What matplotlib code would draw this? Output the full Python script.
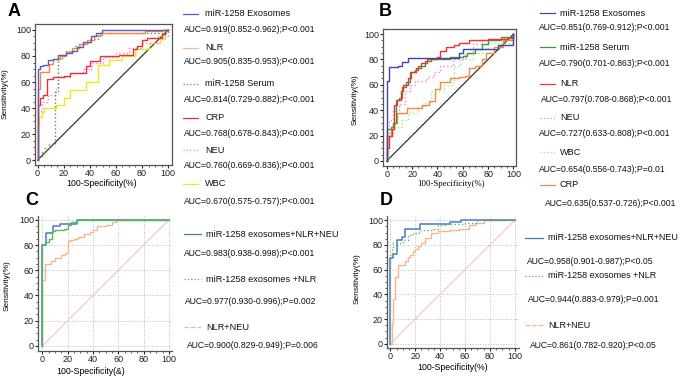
import matplotlib
matplotlib.use("Agg")
import matplotlib.pyplot as plt
from matplotlib.lines import Line2D
from matplotlib.ticker import MultipleLocator

plt.rcParams['font.family'] = ['Liberation Sans', 'DejaVu Sans']

W, H = 685, 386

# ---- data (100-specificity %, sensitivity %) ----
# panel A
a_exo_x = [0, 0, 2, 4, 8, 12, 16, 22, 26, 30, 35, 41, 45, 49, 100]
a_exo_y = [0, 70, 72, 73, 77, 78, 81, 82.5, 84, 87, 91, 95, 97.5, 100, 100]
a_nlr_x = [0, 0, 1.5, 9, 12, 17, 22, 26, 32, 38, 43, 48, 82, 95, 100]
a_nlr_y = [0, 55, 68, 74, 78, 80, 83, 86, 89, 92, 95, 97.4, 99, 100, 100]
a_ser_x = [0, 0, 3, 6, 9, 13.5, 13.5, 16, 18.5, 22, 28, 33, 40, 46, 50, 90, 100]
a_ser_y = [0, 3, 6, 9, 12, 12, 52, 78, 80, 84, 88, 90, 93, 96, 98, 98, 100]
a_crp_x = [0, 0, 1.5, 4, 7, 12, 20, 25, 37, 40, 48, 62, 73, 76, 80, 84, 95, 98, 100]
a_crp_y = [0, 42, 48, 50, 62, 64, 65, 67, 72, 76, 80, 81, 85, 88, 92, 94, 97, 100, 100]
a_neu_x = [0, 0, 3, 8, 13, 16, 25, 35, 42, 50, 60, 70, 80, 92, 100]
a_neu_y = [0, 38, 45, 50, 55, 64, 67, 70, 75, 79, 82, 86, 90, 95, 100]
a_wbc_x = [0, 0, 1, 3, 5, 14, 20, 25, 37, 46, 55, 65, 75, 85, 94, 98, 100]
a_wbc_y = [0, 27, 33, 37, 40, 42, 48, 54, 60, 73, 77, 80, 85, 90, 93, 100, 100]

# panel B
b_exo_x = [0, 0, 2, 9, 12, 17, 57, 60, 88, 100]
b_exo_y = [0, 63, 74, 75, 78, 81, 85, 88, 91, 100]
b_ser_x = [0, 0, 3, 5, 7, 10, 12, 15, 18, 22, 25, 30, 35, 50, 60, 63, 70, 75, 80, 90, 100]
b_ser_y = [0, 25, 27, 30, 48, 50, 58, 62, 70, 72, 75, 79, 80, 82, 83, 85, 88, 92, 95, 98, 100]
b_nlr_x = [0, 0, 2, 4, 6, 8, 11, 13, 17, 19, 23, 27, 32, 40, 42, 47, 53, 57, 65, 80, 95, 100]
b_nlr_y = [0, 10, 20, 25, 44, 48, 55, 60, 65, 70, 73, 77, 80, 82, 87, 90, 91, 93, 95, 96, 97, 100]
b_neu_x = [0, 0, 2, 5, 10, 14, 18, 22, 32, 37, 42, 52, 62, 68, 75, 90, 100]
b_neu_y = [0, 20, 32, 40, 45, 55, 60, 63, 66, 70, 75, 80, 85, 92, 95, 97, 100]
b_wbc_x = [0, 2, 5, 12, 17, 25, 30, 35, 45, 52, 53, 58, 68, 75, 80, 100]
b_wbc_y = [0, 20, 27, 32, 38, 43, 46, 55, 60, 63, 75, 80, 85, 88, 93, 100]
b_crp_x = [0, 0, 3, 6, 8, 16, 28, 33, 38, 42, 50, 57, 62, 65, 70, 75, 78, 85, 92, 100]
b_crp_y = [0, 20, 25, 30, 38, 42, 44, 47, 57, 62, 65, 66, 67, 73, 75, 80, 85, 90, 95, 100]

# panel C
c_all_x = [0, 0, 2.6, 8.7, 14, 27, 100]
c_all_y = [0, 80, 89.5, 94.7, 97, 100, 100]
c_two_x = [0, 0, 2.5, 5, 8, 10, 17, 20, 23, 27, 100]
c_two_y = [0, 80, 82, 85, 91, 92, 93, 96, 98, 100, 100]
c_nn_x = [0, 0, 2, 7, 10, 15, 18, 20, 22, 25, 28, 33, 38, 40, 43, 50, 55, 58, 100]
c_nn_y = [0, 52, 65, 67, 70, 72, 74, 83, 84, 85, 86, 89, 90, 92, 95, 96, 98, 100, 100]

# panel D
d_all_x = [0, 0, 2, 5, 9, 12, 24, 48, 57, 100]
d_all_y = [0, 69.7, 73, 84, 86.5, 92.7, 97, 98.6, 100, 100]
d_two_x = [0, 0, 1, 2.5, 10, 14, 18, 23, 35, 38, 45, 60, 70, 100]
d_two_y = [0, 72, 78, 82, 84, 88, 90, 92, 93, 96, 97, 98, 100, 100]
d_nn_x = [0, 1, 2, 4, 6, 12, 14, 16, 18, 20, 22, 25, 28, 33, 38, 48, 55, 63, 68, 75, 100]
d_nn_y = [0, 17, 36, 54, 64, 67, 70, 72, 75, 77, 79, 82, 86, 90, 91, 92, 93, 96, 98, 100, 100]

ticks = [0, 20, 40, 60, 80, 100]


def fx(x):
    return x / W


def fy(y):
    return 1 - y / H


def make_axes(fig, left, right, top, bottom):
    return fig.add_axes([fx(left), fy(bottom), (right - left) / W, (bottom - top) / H])


def style(ax, xlim, ylim, box=True, grid=False):
    ax.set_xlim(*xlim)
    ax.set_ylim(*ylim)
    ax.set_xticks(ticks)
    ax.set_yticks(ticks)
    ax.xaxis.set_minor_locator(MultipleLocator(5))
    ax.yaxis.set_minor_locator(MultipleLocator(5))
    ax.tick_params(labelsize=6.5, length=2, width=0.8, pad=1, colors='#222222')
    ax.tick_params(which='minor', length=1.2, width=0.6, colors='#444444')
    for s in ax.spines.values():
        s.set_color('#555555')
        s.set_linewidth(0.9)
    if not box:
        ax.spines['top'].set_visible(False)
        ax.spines['right'].set_visible(False)
    if grid:
        ax.grid(True, ls=':', color='#bbbbbb', lw=0.7)


def leg_line(fig, x0, x1, y, color, ls='-'):
    fig.add_artist(Line2D([fx(x0), fx(x1)], [fy(y), fy(y)], transform=fig.transFigure,
                          color=color, lw=0.9, ls=ls))


def txt(fig, x, y, s, size=6.2, **kw):
    fig.text(fx(x), fy(y), s, fontsize=size, va='center', color='#111111', **kw)


fig = plt.figure(figsize=(6.85, 3.86), dpi=100)

# ---------- A ----------
ax = make_axes(fig, 35, 172, 24, 165)
ax.plot([0, 100], [0, 100], color='#333333', lw=0.9)
ax.step(a_wbc_x, a_wbc_y, where='post', color='#f2e620', lw=1.0)
ax.step(a_neu_x, a_neu_y, where='post', color='#ee82ee', lw=1.0, ls=':')
ax.step(a_crp_x, a_crp_y, where='post', color='#f03030', lw=1.0)
ax.step(a_ser_x, a_ser_y, where='post', color='#4a9a4a', lw=1.0, ls=':')
ax.step(a_nlr_x, a_nlr_y, where='post', color='#f48a3c', lw=1.0)
ax.step(a_exo_x, a_exo_y, where='post', color='#5b5bc0', lw=1.0)
style(ax, (-2, 103), (-3.8, 104.6))
fig.text(fx(14), fy(11), 'A', fontsize=13, fontweight='bold', ha='center', va='center')
fig.text(fx(5), fy(94), 'Sensitivity(%)', fontsize=6, rotation=90, ha='center', va='center')
fig.text(fx(102), fy(184), '100-Specificity(%)', fontsize=6.3, ha='center', va='center')

a_leg = [('miR-1258 Exosomes', '#5b5bc0', '-', 'AUC=0.919(0.852-0.962);P<0.001', 14, 29),
         ('NLR', '#f8b890', '-', 'AUC=0.905(0.835-0.953);P<0.001', 48, 62),
         ('miR-1258 Serum', '#4a9a4a', ':', 'AUC=0.814(0.729-0.882);P<0.001', 84, 100),
         ('CRP', '#f03030', '-', 'AUC=0.768(0.678-0.843);P<0.001', 118, 133),
         ('NEU', '#ee82ee', ':', 'AUC=0.760(0.669-0.836);P<0.001', 150, 165),
         ('WBC', '#f2e620', '-', 'AUC=0.670(0.575-0.757);P<0.001', 184, 202)]
for name, c, ls, auc, y1, y2 in a_leg:
    leg_line(fig, 183, 198, y1, c, ls)
    txt(fig, 205, y1, name, size=6.6)
    txt(fig, 184, y2, auc)

# ---------- B ----------
ax = make_axes(fig, 383, 516, 29, 166)
ax.plot([0, 100], [0, 100], color='#333333', lw=0.9)
ax.step(b_wbc_x, b_wbc_y, where='post', color='#90ee90', lw=1.0, ls=':')
ax.step(b_neu_x, b_neu_y, where='post', color='#ee82ee', lw=1.0, ls=':')
ax.step(b_crp_x, b_crp_y, where='post', color='#f58a3c', lw=1.0)
ax.step(b_ser_x, b_ser_y, where='post', color='#3c9a3c', lw=1.0)
ax.step(b_nlr_x, b_nlr_y, where='post', color='#f03232', lw=1.0)
ax.step(b_exo_x, b_exo_y, where='post', color='#4343b0', lw=1.0)
style(ax, (-3, 102), (-4, 104))
fig.text(fx(385), fy(11), 'B', fontsize=13, fontweight='bold', ha='center', va='center')
fig.text(fx(355), fy(100), 'Sensitivity(%)', fontsize=6, rotation=90, ha='center', va='center')
fig.text(fx(451), fy(184), '100-Specificity(%)', fontsize=6.3, ha='center', va='center',
         family=['Liberation Serif', 'DejaVu Serif'])

b_leg = [('miR-1258 Exosomes', '#4343b0', '-', 'AUC=0.851(0.769-0.912);P<0.001', 13, 28, 539),
         ('miR-1258 Serum', '#3c9a3c', '-', 'AUC=0.790(0.701-0.863);P<0.001', 47, 63, 539),
         ('NLR', '#f03232', '-', 'AUC=0.797(0.708-0.868);P<0.001', 84, 99, 541),
         ('NEU', '#ee82ee', ':', 'AUC=0.727(0.633-0.808);P<0.001', 118, 133, 539),
         ('WBC', '#90ee90', ':', 'AUC=0.654(0.556-0.743);P=0.01', 152, 170, 539),
         ('CRP', '#f58a3c', '-', 'AUC=0.635(0.537-0.726);P<0.001', 185, 203, 545)]
for name, c, ls, auc, y1, y2, ax0 in b_leg:
    leg_line(fig, 540, 555, y1, c, ls)
    txt(fig, 560, y1, name, size=6.6)
    txt(fig, ax0, y2, auc)

# ---------- C ----------
ax = make_axes(fig, 38, 171.5, 216, 351)
ax.plot([0, 100], [0, 100], color='#f2c4c4', lw=0.8)
ax.step(c_nn_x, c_nn_y, where='post', color='#f8b68f', lw=1.0)
ax.step(c_all_x, c_all_y, where='post', color='#4a7bc4', lw=1.1)
ax.step(c_two_x, c_two_y, where='post', color='#5cb85c', lw=1.0)
style(ax, (-3.4, 102), (-4, 103), box=False, grid=True)
fig.text(fx(32), fy(201), 'C', fontsize=13, fontweight='bold', ha='center', va='center')
fig.text(fx(7), fy(286), 'Sensitivity(%)', fontsize=6, rotation=90, ha='center', va='center')
fig.text(fx(91), fy(372), '100-Specificity(&)', fontsize=6.3, ha='center', va='center')

c_leg = [('miR-1258 exosomes+NLR+NEU', '#4a7bc4', '-', 'AUC=0.983(0.938-0.998);P<0.001', 234, 253, 184),
         ('miR-1258 exosomes +NLR', '#5cb85c', ':', 'AUC=0.977(0.930-0.996);P=0.002', 279, 301, 185),
         ('NLR+NEU', '#f8b68f', '--', 'AUC=0.900(0.829-0.949);P=0.006', 327, 346, 187)]
for name, c, ls, auc, y1, y2, ax0 in c_leg:
    leg_line(fig, 184, 201, y1, c, ls)
    txt(fig, 206, y1, name, size=6.6)
    txt(fig, ax0, y2, auc)

# ---------- D ----------
ax = make_axes(fig, 387, 518.5, 216, 348)
ax.plot([0, 100], [0, 100], color='#f2c4c4', lw=0.8)
ax.step(d_nn_x, d_nn_y, where='post', color='#f8b68f', lw=1.0)
ax.step(d_all_x, d_all_y, where='post', color='#4a7bc4', lw=1.1)
ax.step(d_two_x, d_two_y, where='post', color='#5cb85c', lw=1.0, ls=':')
style(ax, (-2.7, 103), (-3.5, 103.5), box=False, grid=True)
fig.text(fx(386), fy(201), 'D', fontsize=13, fontweight='bold', ha='center', va='center')
fig.text(fx(357), fy(279), 'Sensitivity(%)', fontsize=6, rotation=90, ha='center', va='center')
fig.text(fx(453), fy(368), '100-Specificity(%)', fontsize=6.3, ha='center', va='center')

d_leg = [('miR-1258 exosomes+NLR+NEU', '#4a7bc4', '-', 'AUC=0.958(0.901-0.987);P<0.05', 238, 261, 527),
         ('miR-1258 exosomes +NLR', '#5cb85c', ':', 'AUC=0.944(0.883-0.979);P=0.001', 276, 299, 528),
         ('NLR+NEU', '#f8b68f', '--', 'AUC=0.861(0.782-0.920);P<0.05', 325, 345, 530)]
for name, c, ls, auc, y1, y2, ax0 in d_leg:
    leg_line(fig, 525, 543, y1, c, ls)
    txt(fig, 548, y1, name, size=6.5)
    txt(fig, ax0, y2, auc)

fig.savefig('out.png', dpi=100)
